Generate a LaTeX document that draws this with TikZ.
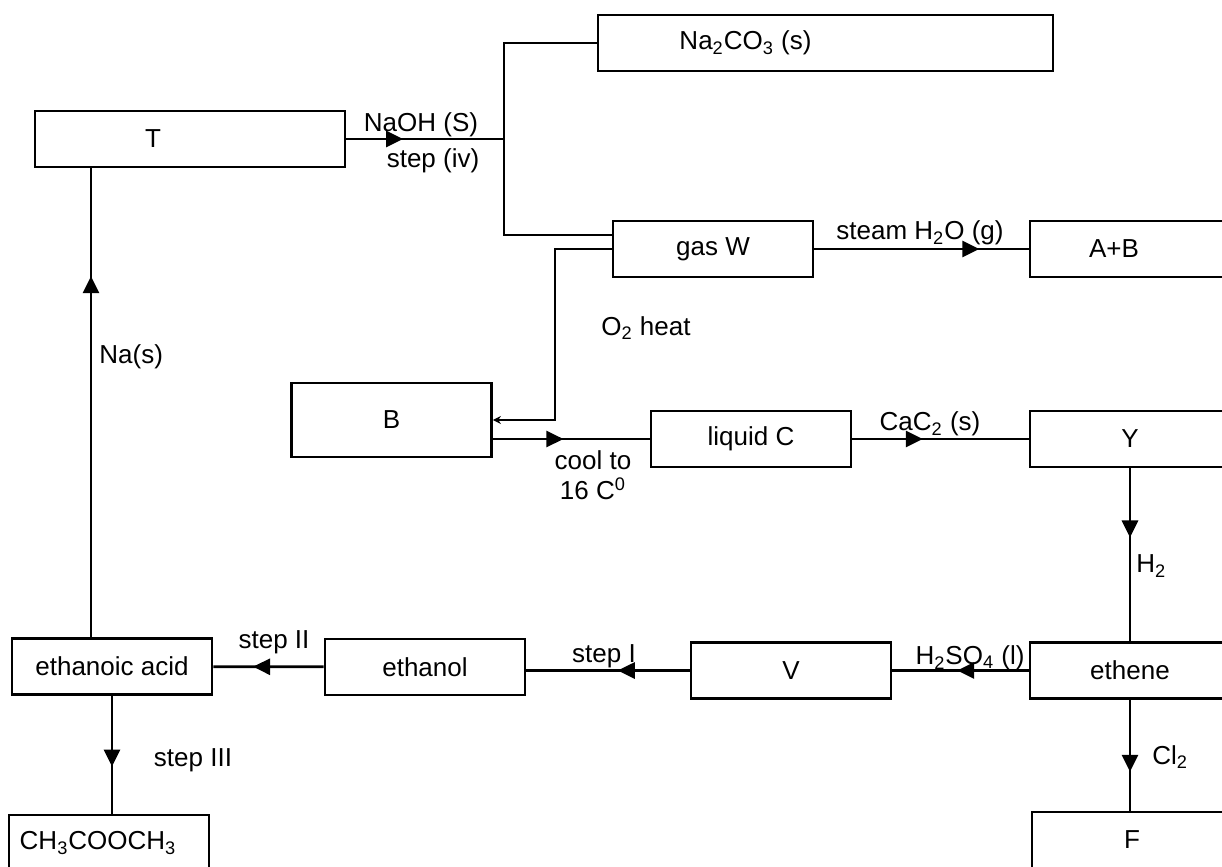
\documentclass[tikz,border=0pt]{standalone}
\usepackage{fontspec}
\setmainfont{Liberation Sans}
\usetikzlibrary{arrows.meta,decorations.markings}

\begin{document}
\begin{tikzpicture}[x=0.5pt, y=-0.5pt, line width=1.4pt,
    every node/.style={font=\fontsize{13}{15}\selectfont},
    box/.style={draw, minimum width=100pt, minimum height=28pt, inner sep=0pt},
    flow/.style={postaction={decorate}, decoration={markings,
        mark=at position #1 with {\arrow{Triangle[length=8.5pt, width=8pt]}}}}]
    \useasboundingbox (0,0) rectangle (1222,867);
    \clip (0,0) rectangle (1222,867);
    % Boxes
    \node[box, minimum width=227.5pt, label={[xshift=-40pt]center:Na\textsubscript{2}CO\textsubscript{3} (s)}] (Na2CO3) at (825.5,43) {};
    \node[box, minimum width=155pt, label={[xshift=-18.5pt]center:T}] (T) at (190,139) {};
    \node[box] (gasW) at (713,249) {gas W};
    \node[box, label={[xshift=-8pt]center:A+B}] (AB) at (1130,249) {};
    \node[box, minimum height=37pt] (B) at (391.5,420) {B};
    \node[box] (liqC) at (751,439) {liquid C};
    \node[box] (Y) at (1130,439) {Y};
    \node[box] (acid) at (112,666.5) {ethanoic acid};
    \node[box] (ethanol) at (425,667) {ethanol};
    \node[box] (V) at (791,670.5) {V};
    \node[box] (ethene) at (1130,670.5) {ethene};
    \node[box, label={[xshift=-5.5pt]center:CH\textsubscript{3}COOCH\textsubscript{3}}] (ester) at (109,843) {};
    \node[box] (F) at (1132,840) {F};
    \coordinate (j) at (504,139);
    \coordinate (o) at (555,420);
    % Connectors
    \draw[flow=0.36] (T.east) -- (j);
    \draw (Na2CO3.west) -| (j) |- ([yshift=7pt]gasW.west);
    \draw[flow=0.77] (gasW) -- (AB);
    \draw[-{Stealth[length=4pt, width=4pt]}] (gasW.west) -| (o) -- (B.east);
    \draw[flow=0.45] (B.east |- liqC.west) -- (liqC.west);
    \draw[flow=0.40] (liqC) -- (Y);
    \draw[flow=0.40] (Y) -- (ethene);
    \draw[flow=0.525] (ethene) -- (V);
    \draw[flow=0.44] (V.west) -- (V.west -| ethanol.east);
    \draw[flow=0.64] (ethanol) -- (acid);
    \draw[flow=0.60] (acid.south) -- (acid.south |- ester.north);
    \draw[flow=0.77] ([xshift=-10.5pt]acid.north) -- ([xshift=-10.5pt]acid.north |- T.south);
    \draw[flow=0.65] (ethene.south) -- (ethene.south |- F.north);
    % Labels
    \node (naoh) at (421,125) {NaOH (S)};
    \node (stepiv) at (433,161) {step (iv)};
    \node (steam) at (920,233) {steam H\textsubscript{2}O (g)};
    \node (o2) at (646,328) {O\textsubscript{2} heat};
    \node[align=center] (cool) at (593,475) {cool to\\16 C\textsuperscript{0}};
    \node (cac2) at (930,424) {CaC\textsubscript{2} (s)};
    \node[anchor=west, inner sep=0pt] (h2) at (1135,566) {H\textsubscript{2}};
    \node (h2so4) at (970,658) {H\textsubscript{2}SO\textsubscript{4} (l)};
    \node[anchor=west, inner sep=0pt] (cl2) at (1151,757) {Cl\textsubscript{2}};
    \node (stepi) at (604,656) {step I};
    \node (stepii) at (274,642) {step II};
    \node (stepiii) at (193,760) {step III};
    \node[anchor=west, inner sep=0pt] (nas) at (98,357) {Na(s)};
\end{tikzpicture}
\end{document}
